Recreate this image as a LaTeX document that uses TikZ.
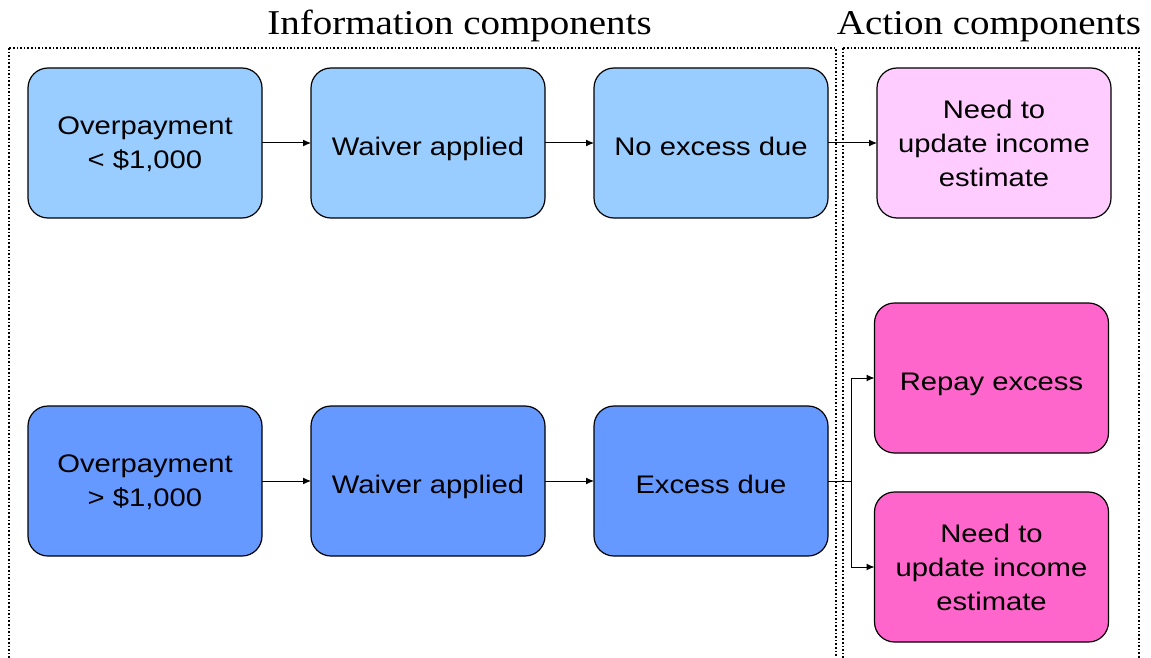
\documentclass[tikz,border=0pt]{standalone}
\usepackage{fontspec}
\setmainfont{Liberation Sans}[FakeStretch=1.15]
\newfontfamily\headfont{Liberation Serif}[FakeStretch=1.12]
\usetikzlibrary{positioning,arrows.meta}

\definecolor{lowblue}{HTML}{99CCFF}
\definecolor{highblue}{HTML}{6699FF}
\definecolor{lowpink}{HTML}{FFCCFF}
\definecolor{highpink}{HTML}{FF66CC}

\begin{document}
\begin{tikzpicture}[
    x=0.5pt, y=-0.5pt,
    node distance=94pt and 24.5pt,
    font=\fontsize{12.7}{17}\selectfont,
    text centered,
    stage/.style={
      draw, rectangle, rounded corners=10pt, line width=0.6pt,
      minimum width=117pt, minimum height=75pt,
      align=center, inner sep=0, outer sep=0,
      text depth=0pt,
      execute at begin node={\rule{0pt}{12.3pt}}
    },
    flow/.style={-{Latex[length=4pt,width=3.5pt]}, line width=0.5pt},
    frame/.style={densely dotted, line width=0.8pt},
    heading/.style={font=\headfont\fontsize{17.4}{20}\selectfont, anchor=base}
  ]

  \useasboundingbox (0,0) rectangle (1151,658);

  \node [heading] (info) at (459.5,35) {Information components};
  \node [heading] (act) at (989,35) {Action components};

  \draw [frame] (9,48) rectangle (836,680);
  \draw [frame] (843,48) rectangle (1139,680);

  \node [stage, fill=lowblue] (A1) at (145,143) {Overpayment\\< \$1,000};
  \node [stage, fill=lowblue, right=of A1] (A2) {Waiver applied};
  \node [stage, fill=lowblue, right=of A2] (A3) {No excess due};
  \node [stage, fill=lowpink, right=of A3] (A4) {Need to\\update income\\estimate};

  \node [stage, fill=highblue, below=of A1] (B1) {Overpayment\\> \$1,000};
  \node [stage, fill=highblue, right=of B1] (B2) {Waiver applied};
  \node [stage, fill=highblue, right=of B2] (B3) {Excess due};

  \node [stage, fill=highpink] (C1) at (991.5,378) {Repay excess};
  \node [stage, fill=highpink, below=19.5pt of C1] (C2) {Need to\\update income\\estimate};

  \draw [flow] (A1) -- (A2);
  \draw [flow] (A2) -- (A3);
  \draw [flow] (A3) -- (A4);
  \draw [flow] (B1) -- (B2);
  \draw [flow] (B2) -- (B3);

  \coordinate (split) at ([xshift=11.5pt]B3.east);
  \draw [line width=0.5pt] (B3.east) -- (split);
  \draw [flow] (split) |- (C1);
  \draw [flow] (split) |- (C2);

\end{tikzpicture}
\end{document}
